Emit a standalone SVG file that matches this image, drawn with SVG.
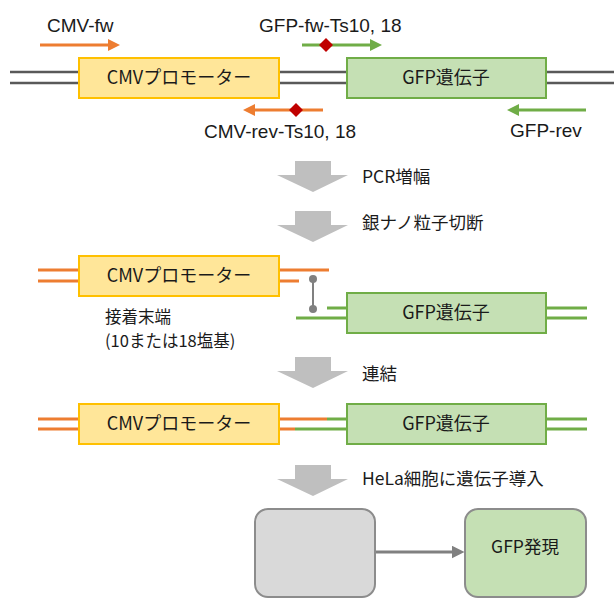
<svg xmlns="http://www.w3.org/2000/svg" width="614" height="599" viewBox="0 0 614 599">
<style>
.lat{font-family:"Liberation Sans",Arial,sans-serif;font-size:19px;fill:#1a1a1a}
.jp{font-family:"Noto Sans CJK JP","Noto Sans",sans-serif;font-size:17.5px;fill:#1a1a1a}
.sm{font-size:16.5px}
.bt{font-family:"Noto Sans CJK JP","Noto Sans",sans-serif;font-size:18px;fill:#1a1a1a;text-anchor:middle}
.cmv{fill:#FFE699;stroke:#FFC000;stroke-width:2}
.gfp{fill:#C5E0B4;stroke:#70AD47;stroke-width:2}
.dna{stroke:#595959;stroke-width:2.5;fill:none}
.or{stroke:#ED7D31;stroke-width:3;fill:none}
.gr{stroke:#70AD47;stroke-width:3;fill:none}
.blk{fill:#BFBFBF}
.dia{fill:#C00000}
</style>
<defs>
<marker id="ao" viewBox="0 0 10 10" refX="5" refY="5" markerWidth="12" markerHeight="12" markerUnits="userSpaceOnUse" orient="auto"><path d="M0,0 L10,5 L0,10 z" fill="#ED7D31"/></marker>
<marker id="ag" viewBox="0 0 10 10" refX="5" refY="5" markerWidth="12" markerHeight="12" markerUnits="userSpaceOnUse" orient="auto"><path d="M0,0 L10,5 L0,10 z" fill="#70AD47"/></marker>
<marker id="ak" viewBox="0 0 10 10" refX="5" refY="5" markerWidth="13" markerHeight="13" markerUnits="userSpaceOnUse" orient="auto"><path d="M0,0 L10,5 L0,10 z" fill="#808080"/></marker>
</defs>
<rect width="614" height="599" fill="#fff"/>

<g id="connectors">
  <!-- row 1 DNA -->
  <path class="dna" d="M10,72 H79 M10,83 H79 M279,72 H347 M279,83 H347 M546,72 H614 M546,83 H614"/>
  <!-- primers -->
  <path class="or" d="M40,45 H114" marker-end="url(#ao)"/>
  <path class="gr" d="M302,45 H376" marker-end="url(#ag)"/>
  <path class="or" d="M323,110 H249" marker-end="url(#ao)"/>
  <path class="gr" d="M586,110 H513" marker-end="url(#ag)"/>
  <!-- row 2 -->
  <path class="or" d="M38,270 H79 M38,281 H79 M279,270 H329 M279,281 H299"/>
  <path class="gr" d="M327,308 H347 M296,318 H347 M546,308 H587 M546,318 H587"/>
  <g stroke="#808080" fill="#808080">
    <line x1="313" y1="279" x2="313" y2="309" stroke-width="2"/>
    <circle cx="313" cy="279" r="4" stroke="none"/>
    <circle cx="313" cy="309" r="4" stroke="none"/>
  </g>
  <!-- row 3 -->
  <path class="or" d="M38,419 H79 M38,429 H79 M279,419 H327 M279,429 H295"/>
  <path class="gr" d="M327,419 H347 M295,429 H347 M546,419 H587 M546,429 H587"/>
  <!-- bottom arrow -->
  <path d="M375,552 H458" stroke="#808080" stroke-width="3" fill="none" marker-end="url(#ak)"/>
  <!-- block arrows -->
  <polygon class="blk" points="295,161 331,161 331,175 348,175 313,192 277,175 295,175"/>
  <polygon class="blk" points="295,211 331,211 331,225 348,225 313,242 277,225 295,225"/>
  <polygon class="blk" points="295,357 331,357 331,371 348,371 313,388 277,371 295,371"/>
  <polygon class="blk" points="295,465 331,465 331,479 348,479 313,496 277,479 295,479"/>
</g>

<g id="diamonds">
  <polygon class="dia" points="326,38 333,45 326,52 319,45"/>
  <polygon class="dia" points="296,103 303,110 296,117 289,110"/>
</g>

<g id="labels">
  <text class="lat" x="47" y="32">CMV-fw</text>
  <text class="lat" x="259" y="32">GFP-fw-Ts10, 18</text>
  <text class="lat" x="204" y="138">CMV-rev-Ts10, 18</text>
  <text class="lat" x="510" y="137">GFP-rev</text>
  <text class="jp" x="362" y="183">PCR増幅</text>
  <text class="jp" x="362" y="229">銀ナノ粒子切断</text>
  <text class="jp sm" x="105" y="323"><tspan x="105">接着末端</tspan><tspan x="105" dy="24">(10または18塩基)</tspan></text>
  <text class="jp" x="362" y="380">連結</text>
  <text class="jp" x="362" y="485">HeLa細胞に遺伝子導入</text>
</g>

<g id="cmv1"><rect class="cmv" x="79" y="58" width="200" height="40"/><text class="bt" x="179" y="84">CMVプロモーター</text></g>
<g id="gfp1"><rect class="gfp" x="347" y="58" width="199" height="40"/><text class="bt" x="446" y="84">GFP遺伝子</text></g>
<g id="cmv2"><rect class="cmv" x="79" y="256" width="200" height="40"/><text class="bt" x="179" y="282">CMVプロモーター</text></g>
<g id="gfp2"><rect class="gfp" x="347" y="293" width="199" height="40"/><text class="bt" x="446" y="319">GFP遺伝子</text></g>
<g id="cmv3"><rect class="cmv" x="79" y="404" width="200" height="40"/><text class="bt" x="179" y="430">CMVプロモーター</text></g>
<g id="gfp3"><rect class="gfp" x="347" y="404" width="199" height="40"/><text class="bt" x="446" y="430">GFP遺伝子</text></g>

<g id="cell"><rect x="255" y="509" width="120" height="88" rx="13" fill="#D9D9D9" stroke="#8C8C8C" stroke-width="2"/></g>
<g id="expr"><rect x="465" y="509" width="121" height="88" rx="13" fill="#C5E0B4" stroke="#8C8C8C" stroke-width="2"/><text class="jp" x="525" y="553" text-anchor="middle">GFP発現</text></g>
</svg>
